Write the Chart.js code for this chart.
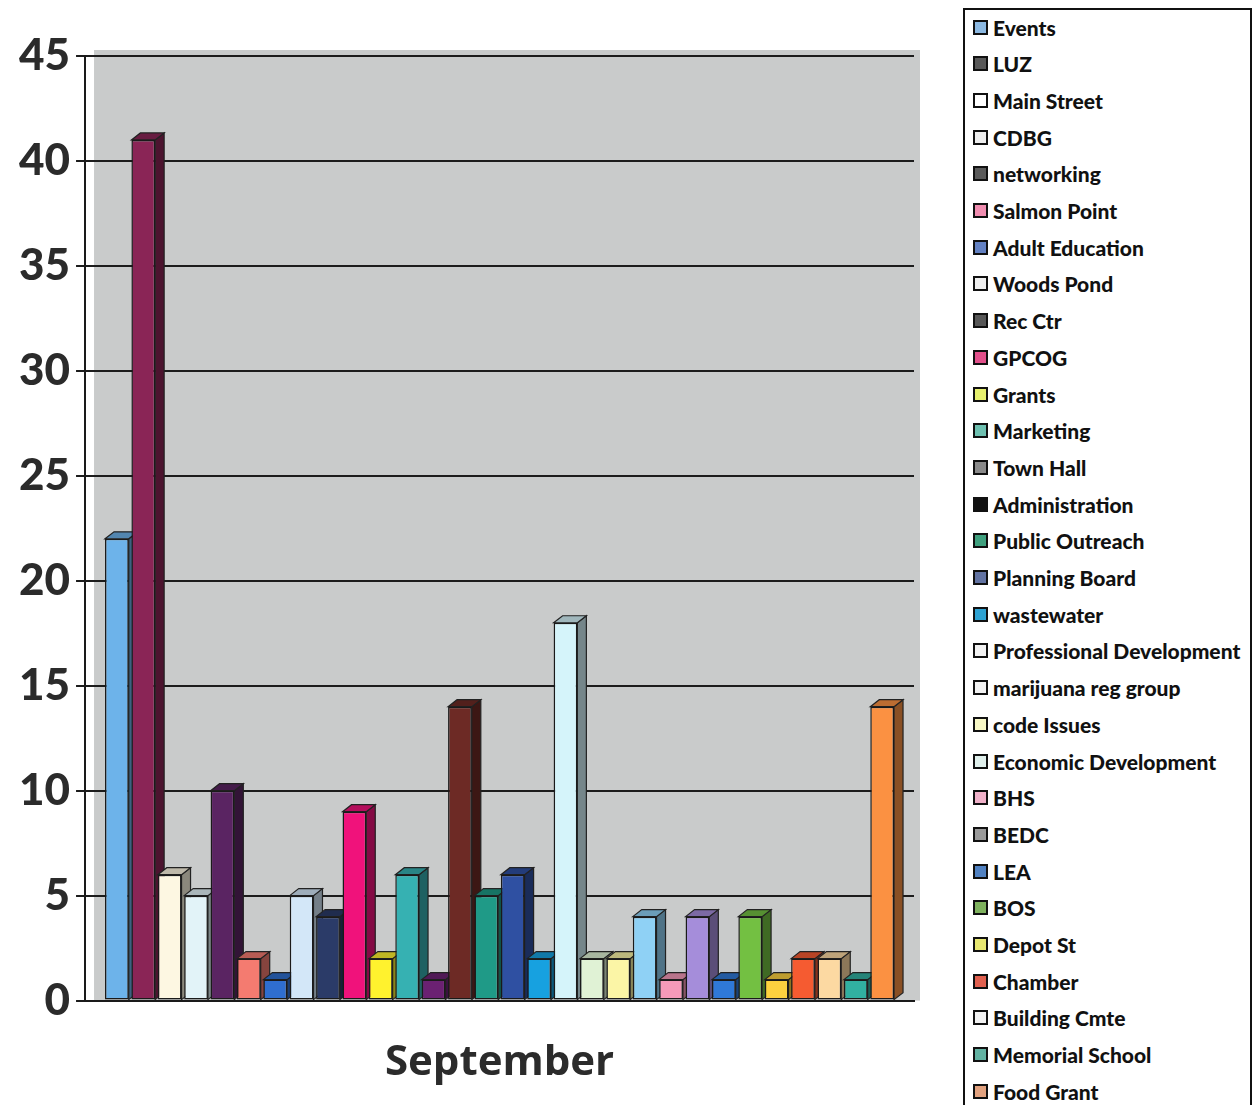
<!DOCTYPE html>
<html>
<head>
<meta charset="utf-8">
<script src="https://cdn.jsdelivr.net/npm/chart.js@4.4.1/dist/chart.umd.min.js"></script>
<style>
  html, body { margin: 0; padding: 0; background: #ffffff; }
  body { width: 1257px; height: 1105px; position: relative; overflow: hidden; }
  #wrap { position: absolute; left: 0; top: 0; width: 960px; height: 1105px; }
  #legend {
    position: absolute; left: 963px; top: 8px; width: 289px; height: 1110px;
    border: 2px solid #111; box-sizing: border-box; background: #fff;
    font-family: Lato, "Open Sans", sans-serif; font-weight: 900; font-size: 21px; color: #111;
  }
  .item { position: absolute; left: 8px; height: 24px; display: flex; align-items: center; white-space: nowrap; }
  .sw { width: 11px; height: 11px; border: 2px solid #111; margin-right: 5px; flex: none; }
</style>
</head>
<body>
<div id="wrap"><canvas id="c" width="960" height="1105"></canvas></div>
<div id="legend"></div>
<script>
// Monthly task counts, September
const categories = ["September"];
const seriesNames = [
  "Events", "LUZ", "Main Street", "CDBG", "networking", "Salmon Point",
  "Adult Education", "Woods Pond", "Rec Ctr", "GPCOG", "Grants", "Marketing",
  "Town Hall", "Administration", "Public Outreach", "Planning Board", "wastewater",
  "Professional Development", "marijuana reg group", "code Issues",
  "Economic Development", "BHS", "BEDC", "LEA", "BOS", "Depot St", "Chamber",
  "Building Cmte", "Memorial School", "Food Grant"
];
const seriesValues = [
  22, 41, 6, 5, 10, 2,
  1, 5, 4, 9, 2, 6,
  1, 14, 5, 6, 2,
  18, 2, 2,
  4, 1, 4, 1, 4, 1, 2,
  2, 1, 14
];
const yTicks = [0, 5, 10, 15, 20, 25, 30, 35, 40, 45];

// Bar face colours
const barColors = [
  "#6db3ea", "#8a2556", "#fdf7e2", "#e2f3f8", "#5a2462", "#f47b70",
  "#2f6ecf", "#d3e7f8", "#2b3b68", "#f0127b", "#fff22e", "#36b1b2",
  "#6b2172", "#6d2a25", "#1f9a87", "#2f50a2", "#17a1e0",
  "#d5f4fa", "#e0f2d5", "#fbf5a6",
  "#8fd1f5", "#f59ab9", "#a58dda", "#2f79d8", "#73c042", "#fdd13f", "#f55b31",
  "#fcd9a2", "#31b0a1", "#fb9142"
];
// Legend swatch colours
const swatchColors = [
  "#8cb9e2", "#595959", "#ffffff", "#eeeeee", "#5a5a5a", "#f08db0",
  "#6381c2", "#efefef", "#575757", "#e2508b", "#e6f06e", "#6ec0b0",
  "#8a8a8a", "#111111", "#3fa07e", "#6273a2", "#2ea2d2",
  "#f2f2f2", "#f2f2f2", "#f8f8c6",
  "#e0f0ec", "#f0b1c9", "#9a9a9a", "#5182c2", "#7fb25e", "#e8e872", "#e0604f",
  "#f2f2f2", "#62b2a2", "#e2a27f"
];

function shade(hex, f) {
  const n = parseInt(hex.slice(1), 16);
  const r = Math.round(((n >> 16) & 255) * f);
  const g = Math.round(((n >> 8) & 255) * f);
  const b = Math.round((n & 255) * f);
  return `rgb(${r},${g},${b})`;
}

// Grey back wall behind the plot
const wallPlugin = {
  id: 'wall',
  beforeDraw(chart) {
    const { ctx, chartArea: a } = chart;
    ctx.save();
    ctx.fillStyle = '#c9cbcb';
    ctx.fillRect(a.left + 9, a.top - 6, a.right - a.left - 3, a.bottom - a.top + 6);
    ctx.restore();
  }
};

// Side and top faces giving each bar depth; fronts are drawn by the bar controller
const depthPlugin = {
  id: 'depth',
  beforeDatasetsDraw(chart) {
    const ctx = chart.ctx;
    const dx = 9, dy = 7;
    ctx.save();
    ctx.lineWidth = 1.2;
    ctx.strokeStyle = '#222';
    chart.data.datasets.forEach((ds, i) => {
      const meta = chart.getDatasetMeta(i);
      meta.data.forEach(bar => {
        const { x, y, width, base } = bar.getProps(['x', 'y', 'width', 'base'], true);
        const x0 = x - width / 2, x1 = x + width / 2;
        // side face
        ctx.beginPath();
        ctx.moveTo(x1, y);
        ctx.lineTo(x1 + dx, y - dy);
        ctx.lineTo(x1 + dx, base - dy);
        ctx.lineTo(x1, base);
        ctx.closePath();
        ctx.fillStyle = shade(ds.backgroundColor, 0.55);
        ctx.fill();
        ctx.stroke();
        // top face
        ctx.beginPath();
        ctx.moveTo(x0, y);
        ctx.lineTo(x0 + dx, y - dy);
        ctx.lineTo(x1 + dx, y - dy);
        ctx.lineTo(x1, y);
        ctx.closePath();
        ctx.fillStyle = shade(ds.backgroundColor, 0.75);
        ctx.fill();
        ctx.stroke();
      });
    });
    ctx.restore();
  }
};

const datasets = seriesNames.map((name, i) => ({
  label: name,
  data: [seriesValues[i]],
  backgroundColor: barColors[i],
  borderColor: '#1a1a1a',
  borderWidth: 1.5,
  borderSkipped: false
}));

new Chart(document.getElementById('c'), {
  type: 'bar',
  data: { labels: categories, datasets },
  options: {
    responsive: false,
    animation: false,
    events: [],
    layout: { padding: { left: 13, right: 46, top: 56, bottom: -12 } },
    datasets: { bar: { categoryPercentage: 0.955, barPercentage: 0.9 } },
    plugins: { legend: { display: false }, tooltip: { enabled: false } },
    scales: {
      x: {
        grid: { display: false },
        border: { display: true, color: '#1a1a1a', width: 2 },
        ticks: {
          padding: 29, color: '#2b2b2b',
          font: { family: 'Open Sans', weight: 'bold', size: 42 }
        }
      },
      y: {
        min: 0, max: 45,
        afterBuildTicks(scale) { scale.ticks = yTicks.map(v => ({ value: v })); },
        grid: { color: '#1c1c1c', lineWidth: 2, tickLength: 9, drawTicks: true },
        border: { display: true, color: '#1a1a1a', width: 2 },
        ticks: {
          padding: 6, color: '#2b2b2b',
          font: { family: 'Lato', weight: '900', size: 44 }
        }
      }
    }
  },
  plugins: [wallPlugin, depthPlugin]
});

// Legend listing every series
const legend = document.getElementById('legend');
seriesNames.forEach((name, i) => {
  const row = document.createElement('div');
  row.className = 'item';
  row.style.top = (5 + 36.7 * i) + 'px';
  const sw = document.createElement('span');
  sw.className = 'sw';
  sw.style.background = swatchColors[i];
  const tx = document.createElement('span');
  tx.textContent = name;
  row.appendChild(sw);
  row.appendChild(tx);
  legend.appendChild(row);
});
</script>
</body>
</html>
